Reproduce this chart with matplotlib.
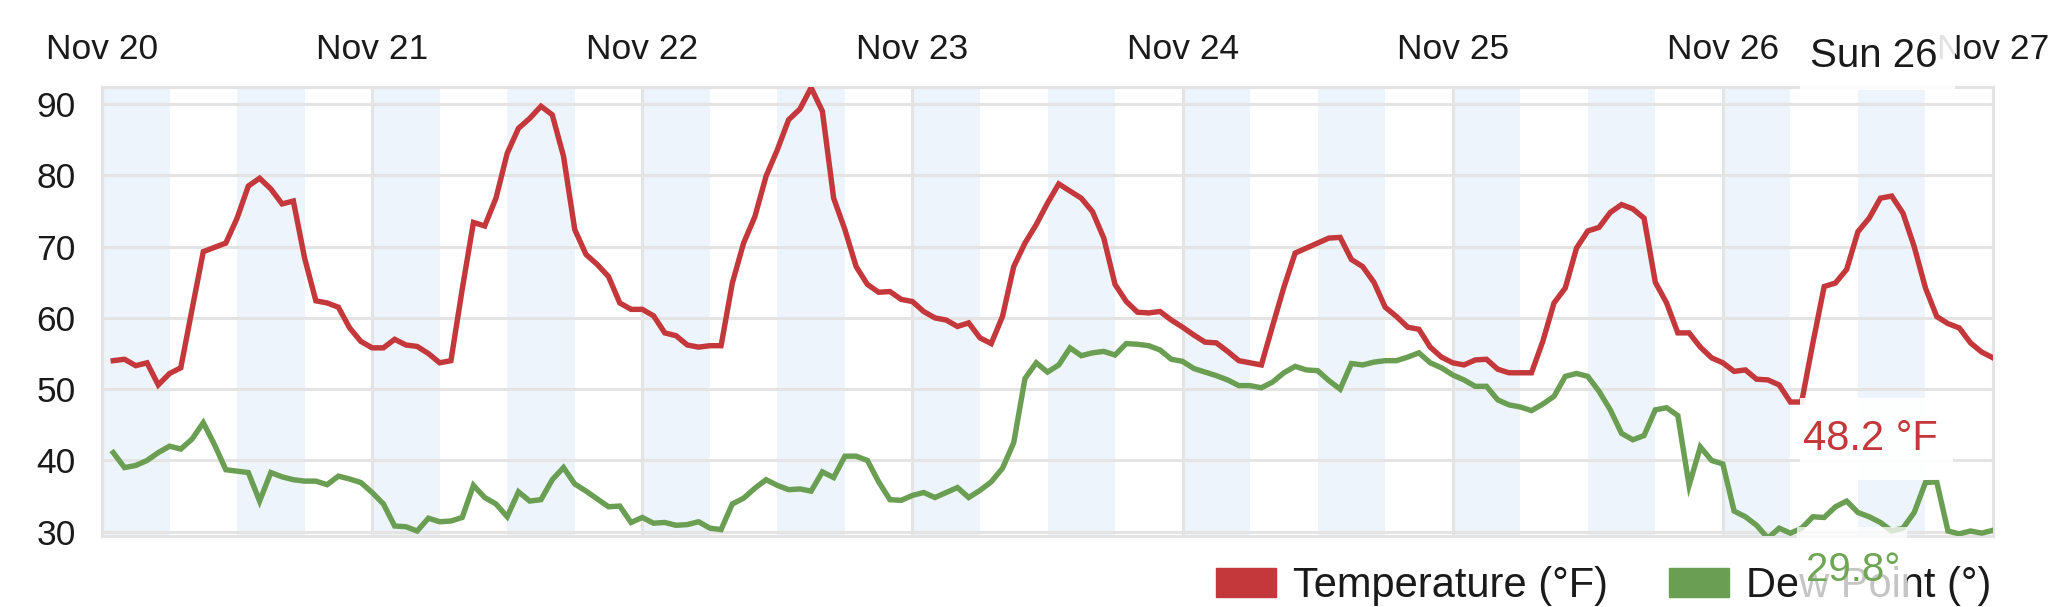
import matplotlib.pyplot as plt
from matplotlib.patches import Patch, Rectangle

# hourly readings, hour 1 = Nov 20 01:00
hours = list(range(1, 169))
temp = [54.0, 54.2, 53.3, 53.7, 50.6, 52.2, 53.0, 61.2, 69.3, 69.9, 70.5, 74.0,
        78.5, 79.6, 78.1, 76.0, 76.4, 68.4, 62.4, 62.1, 61.5, 58.6, 56.7, 55.8,
        55.8, 57.0, 56.2, 56.0, 55.0, 53.7, 54.0, 64.0, 73.4, 72.9, 76.8, 83.1,
        86.6, 88.0, 89.7, 88.5, 82.7, 72.4, 68.9, 67.5, 65.8, 62.1, 61.2, 61.2,
        60.3, 57.9, 57.5, 56.2, 55.9, 56.1, 56.1, 64.9, 70.5, 74.2, 79.9, 83.6,
        87.8, 89.3, 92.3, 89.0, 76.8, 72.4, 67.2, 64.7, 63.6, 63.7, 62.6, 62.3,
        60.9, 60.0, 59.7, 58.8, 59.3, 57.2, 56.4, 60.2, 67.2, 70.5, 73.1, 76.1,
        78.8, 77.8, 76.8, 74.9, 71.2, 64.7, 62.3, 60.8, 60.7, 60.9, 59.7, 58.7,
        57.6, 56.6, 56.5, 55.3, 54.0, 53.7, 53.4, 58.9, 64.3, 69.1, 69.8, 70.5,
        71.2, 71.3, 68.2, 67.2, 65.0, 61.5, 60.2, 58.7, 58.4, 55.9, 54.5, 53.7,
        53.4, 54.1, 54.2, 52.8, 52.3, 52.3, 52.3, 56.7, 62.1, 64.2, 69.8, 72.2,
        72.7, 74.8, 75.9, 75.3, 74.0, 65.0, 62.1, 57.9, 57.9, 55.9, 54.4, 53.7,
        52.5, 52.7, 51.4, 51.3, 50.6, 48.2, 48.2, 56.5, 64.4, 64.9, 66.8, 72.1,
        74.0, 76.8, 77.1, 74.7, 70.0, 64.2, 60.2, 59.2, 58.6, 56.5, 55.2, 54.4]
dew = [41.1, 39.0, 39.3, 40.0, 41.1, 42.0, 41.6, 43.0, 45.3, 42.2, 38.7, 38.5,
       38.3, 34.3, 38.3, 37.7, 37.3, 37.1, 37.1, 36.6, 37.8, 37.4, 36.9, 35.5,
       33.9, 30.8, 30.7, 30.1, 31.9, 31.4, 31.5, 32.0, 36.5, 34.8, 33.9, 32.1,
       35.6, 34.3, 34.5, 37.3, 39.0, 36.7, 35.7, 34.6, 33.5, 33.6, 31.3, 32.0,
       31.2, 31.3, 30.9, 31.0, 31.4, 30.5, 30.3, 33.9, 34.7, 36.1, 37.3, 36.5,
       35.9, 36.0, 35.7, 38.4, 37.6, 40.6, 40.6, 40.0, 37.0, 34.5, 34.4, 35.1,
       35.5, 34.8, 35.5, 36.2, 34.8, 35.8, 37.0, 38.9, 42.5, 51.5, 53.7, 52.4,
       53.4, 55.8, 54.7, 55.1, 55.3, 54.8, 56.4, 56.3, 56.1, 55.5, 54.2, 53.9,
       52.9, 52.4, 51.9, 51.3, 50.5, 50.5, 50.2, 51.0, 52.3, 53.2, 52.7, 52.6,
       51.2, 50.0, 53.6, 53.4, 53.8, 54.0, 54.0, 54.5, 55.1, 53.7, 53.0, 52.0,
       51.3, 50.4, 50.4, 48.5, 47.8, 47.5, 47.0, 47.9, 49.0, 51.8, 52.2, 51.8,
       49.7, 47.1, 43.8, 42.9, 43.5, 47.1, 47.4, 46.3, 36.5, 41.9, 40.0, 39.5,
       32.9, 32.1, 30.9, 29.1, 30.5, 29.8, 30.5, 32.1, 32.0, 33.5, 34.3, 32.7,
       32.1, 31.3, 30.1, 30.5, 32.7, 36.9, 37.0, 30.1, 29.7, 30.1, 29.8, 30.2]

day_labels = ['Nov 20', 'Nov 21', 'Nov 22', 'Nov 23', 'Nov 24', 'Nov 25', 'Nov 26', 'Nov 27']
yticks = [30, 40, 50, 60, 70, 80, 90]
tip_title = 'Sun 26'
tip_temp = '48.2 °F'
tip_dew = '29.8°'

red = '#c4373a'
green = '#6a9e52'

plt.rcParams['font.family'] = ['Liberation Sans', 'DejaVu Sans']

W, H = 2068, 607
fig = plt.figure(figsize=(W / 100, H / 100), dpi=100)
ax = fig.add_axes([102 / W, 1 - 536 / H, (1993 - 102) / W, (536 - 87) / H])

# light blue bands, 0-6h and 12-18h of every day
for d in range(7):
    ax.axvspan(d * 24, d * 24 + 6, color='#eef4fb', lw=0, zorder=0)
    ax.axvspan(d * 24 + 12, d * 24 + 18, color='#eef4fb', lw=0, zorder=0)

ax.plot(hours, temp, color=red, lw=3.9, zorder=3, solid_joinstyle='miter')
ax.plot(hours, dew, color=green, lw=3.9, zorder=3, solid_joinstyle='miter')

ax.set_xlim(0, 168)
ax.set_ylim(29.4, 92.4)
ax.set_xticks([d * 24 for d in range(8)])
ax.set_xticklabels(day_labels)
ax.set_yticks(yticks)
ax.xaxis.tick_top()
ax.tick_params(axis='x', length=0, pad=15, labelsize=25.5, labelcolor='#1a1a1a')
ax.tick_params(axis='y', length=0, pad=19, labelsize=25.5, labelcolor='#1a1a1a')
ax.grid(True, color='#e4e4e4', lw=2.2, zorder=1)
ax.set_axisbelow(True)
for s in ax.spines.values():
    s.set_color('#e4e4e4')
    s.set_linewidth(2.2)

# legend
handles = [Patch(color=red), Patch(color=green)]
fig.legend(handles, ['Temperature (°F)', 'Dew Point (°)'], loc='center left',
           bbox_to_anchor=(1216 / W, 1 - 586 / H), ncol=2, frameon=False, fontsize=30,
           handlelength=1.44, handleheight=0.72, handletextpad=0.41,
           columnspacing=1.46, borderpad=0, borderaxespad=0, labelcolor='#1a1a1a')

# hover tooltip
fig.add_artist(Rectangle((1800 / W, 1 - 90 / H), 155 / W, 70 / H, transform=fig.transFigure,
                         facecolor='white', alpha=0.88, lw=0, zorder=6))
fig.add_artist(Rectangle((1800 / W, 1 - 480 / H), 153 / W, 82 / H, transform=fig.transFigure,
                         facecolor='white', alpha=0.92, lw=0, zorder=6))
fig.add_artist(Rectangle((1797 / W, 1 - 607 / H), 110 / W, 80 / H, transform=fig.transFigure,
                         facecolor='white', alpha=0.75, lw=0, zorder=6))
fig.text(1810 / W, 1 - 56 / H, tip_title, fontsize=29, color='#1a1a1a', va='center', zorder=7)
fig.text(1803 / W, 1 - 439 / H, tip_temp, fontsize=30, color=red, va='center', zorder=7)
fig.text(1806 / W, 1 - 570 / H, tip_dew, fontsize=29, color='#6fa655', va='center', zorder=7)

fig.savefig('out.png', dpi=100)
